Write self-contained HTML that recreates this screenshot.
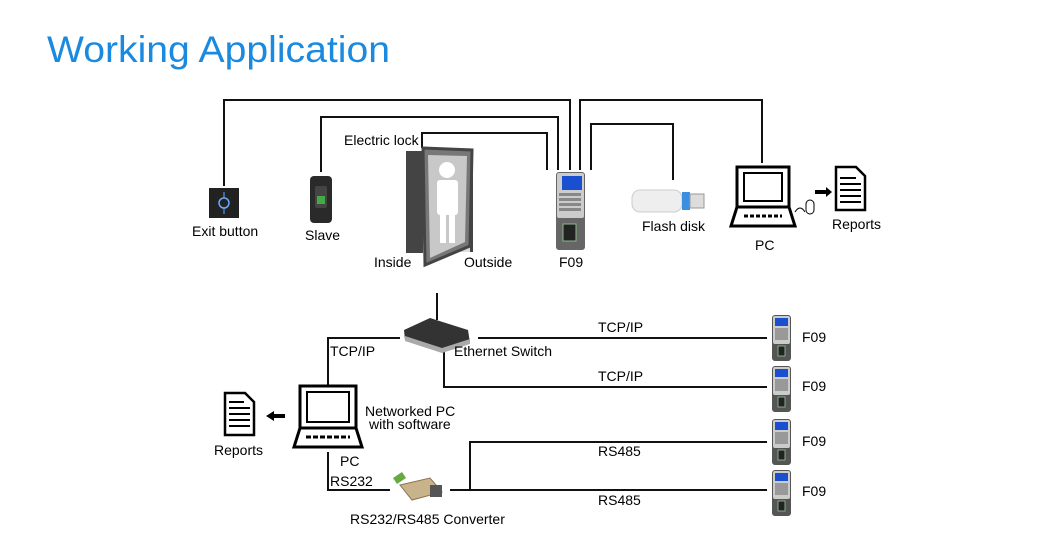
<!DOCTYPE html>
<html><head><meta charset="utf-8"><style>
html,body{margin:0;padding:0;background:#fff;}
svg{display:block;font-family:"Liberation Sans",sans-serif;}
</style></head><body>
<svg width="1059" height="543" viewBox="0 0 1059 543" xmlns="http://www.w3.org/2000/svg">
<defs>
<g id="f09s">
 <rect x="0" y="0" width="19" height="46" rx="3" fill="#555"/>
 <rect x="1" y="1" width="17" height="28" rx="2" fill="#ccc"/>
 <rect x="3" y="3" width="13" height="8" fill="#1a4fd0"/>
 <rect x="3" y="13" width="13" height="12" fill="#999"/>
 <rect x="6" y="31" width="7" height="10" fill="#222" stroke="#8a8" stroke-width="1"/>
</g>
</defs>
<text x="47" y="62" font-size="37" fill="#1a8ae0" textLength="343" lengthAdjust="spacingAndGlyphs">Working Application</text>

<g fill="none" stroke="#111" stroke-width="2">
 <polyline points="224,186 224,100 570,100 570,170"/>
 <polyline points="321,172 321,117 558,117 558,170"/>
 <polyline points="422,148 422,133 547,133 547,170"/>
 <polyline points="580,170 580,100 762,100 762,163"/>
 <polyline points="591,170 591,124 673,124 673,180"/>
 <polyline points="328,385 328,338 400,338"/>
 <line x1="478" y1="338" x2="767" y2="338"/>
 <polyline points="444,350 444,387 767,387"/>
 <polyline points="470,490 470,442 767,442"/>
 <line x1="450" y1="490" x2="767" y2="490"/>
 <polyline points="328,452 328,490 390,490"/>
</g>

<!-- exit button -->
<rect x="209" y="188" width="30" height="30" fill="#222"/>
<circle cx="224" cy="203" r="5" fill="none" stroke="#6af" stroke-width="1.5"/>
<line x1="224" y1="192" x2="224" y2="198" stroke="#6af"/><line x1="224" y1="208" x2="224" y2="214" stroke="#6af"/>
<text x="192" y="236" font-size="14">Exit button</text>
<!-- slave -->
<rect x="310" y="176" width="22" height="47" rx="4" fill="#2a2a2a"/>
<rect x="315" y="186" width="12" height="22" rx="2" fill="#444"/>
<rect x="317" y="196" width="8" height="8" fill="#4a4"/>
<text x="305" y="240" font-size="14">Slave</text>
<!-- door -->
<polygon points="406,151 423,151 423,253 406,253" fill="#444"/>
<polygon points="423,151 470,151 470,252 423,252" fill="#ddd"/>
<polygon points="470,151 473,151 473,252 470,252" fill="#444"/>
<polygon points="423,148 472,150 470,246 425,265" fill="#777" stroke="#444" stroke-width="3"/>
<polygon points="428,155 467,156 465,242 430,258" fill="#c8c8c8"/>
<circle cx="447" cy="170" r="8" fill="#fff"/>
<rect x="437" y="180" width="21" height="35" rx="3" fill="#fff"/>
<rect x="440" y="213" width="6" height="30" fill="#fff"/><rect x="449" y="213" width="6" height="30" fill="#fff"/>
<text x="344" y="145" font-size="14">Electric lock</text>
<text x="374" y="267" font-size="14">Inside</text>
<text x="464" y="267" font-size="14">Outside</text>
<!-- F09 big -->
<rect x="556" y="172" width="29" height="78" rx="3" fill="#666"/>
<rect x="557" y="173" width="27" height="45" rx="2" fill="#ccc"/>
<rect x="562" y="176" width="20" height="14" fill="#1a4fd0"/>
<g fill="#888"><rect x="559" y="193" width="22" height="3"/><rect x="559" y="198" width="22" height="3"/><rect x="559" y="203" width="22" height="3"/><rect x="559" y="208" width="22" height="3"/></g>
<rect x="563" y="224" width="13" height="17" fill="#222" stroke="#8b8"/>
<text x="559" y="267" font-size="14">F09</text>
<!-- flash disk -->
<rect x="632" y="190" width="50" height="22" rx="8" fill="#eee" stroke="#ccc"/>
<rect x="682" y="192" width="8" height="18" fill="#3a8fe0"/>
<rect x="690" y="194" width="14" height="14" fill="#ddd" stroke="#999"/>
<text x="642" y="231" font-size="14">Flash disk</text>
<!-- PC top -->
<g fill="none" stroke="#000" stroke-width="3">
 <rect x="737" y="167" width="52" height="40"/>
 <rect x="744" y="173" width="38" height="28" stroke-width="2"/>
 <polygon points="737,207 789,207 795,226 731,226"/>
</g>
<line x1="744" y1="216" x2="782" y2="216" stroke="#000" stroke-width="3" stroke-dasharray="4,2"/>
<path d="M795,212 q5,-8 10,0" fill="none" stroke="#000"/>
<rect x="806" y="200" width="8" height="14" rx="4" fill="#fff" stroke="#000"/>
<text x="755" y="250" font-size="14">PC</text>
<polygon points="815,190 826,190 826,187 832,192 826,197 826,194 815,194" fill="#000"/>
<path d="M836,167 h20 l9,9 v34 h-29 z" fill="#fff" stroke="#000" stroke-width="2.5"/>
<g stroke="#000" stroke-width="2"><line x1="840" y1="178" x2="856" y2="178"/><line x1="840" y1="184" x2="861" y2="184"/><line x1="840" y1="190" x2="861" y2="190"/><line x1="840" y1="196" x2="861" y2="196"/><line x1="840" y1="202" x2="861" y2="202"/></g>
<text x="832" y="229" font-size="14">Reports</text>

<!-- router -->
<line x1="437" y1="293" x2="437" y2="320" stroke="#111" stroke-width="2"/>
<polygon points="404,330 430,318 468,330 470,343 442,352 405,340" fill="#333"/>
<polygon points="405,336 442,348 470,339 470,344 442,353 405,341" fill="#aaa"/>
<text x="330" y="356" font-size="14">TCP/IP</text>
<text x="454" y="356" font-size="14">Ethernet Switch</text>
<text x="598" y="332" font-size="14">TCP/IP</text>
<text x="598" y="381" font-size="14">TCP/IP</text>
<text x="598" y="456" font-size="14">RS485</text>
<text x="598" y="505" font-size="14">RS485</text>
<!-- networked PC -->
<g fill="none" stroke="#000" stroke-width="3">
 <rect x="300" y="386" width="56" height="42"/>
 <rect x="307" y="392" width="42" height="30" stroke-width="2"/>
 <polygon points="300,428 356,428 362,447 294,447"/>
</g>
<line x1="306" y1="437" x2="350" y2="437" stroke="#000" stroke-width="3" stroke-dasharray="5,2"/>
<text x="365" y="416" font-size="14">Networked PC</text>
<text x="369" y="429" font-size="14">with software</text>
<text x="340" y="466" font-size="14">PC</text>
<text x="330" y="486" font-size="14">RS232</text>
<polygon points="285,418 274,418 274,421 266,416 274,411 274,414 285,414" fill="#000"/>
<path d="M225,393 h20 l9,9 v33 h-29 z" fill="#fff" stroke="#000" stroke-width="2.5"/>
<g stroke="#000" stroke-width="2"><line x1="229" y1="402" x2="244" y2="402"/><line x1="229" y1="408" x2="250" y2="408"/><line x1="229" y1="414" x2="250" y2="414"/><line x1="229" y1="420" x2="250" y2="420"/><line x1="229" y1="426" x2="250" y2="426"/></g>
<text x="214" y="455" font-size="14">Reports</text>
<!-- converter -->
<polygon points="393,478 402,472 406,478 397,484" fill="#6a4"/>
<polygon points="400,485 430,478 442,492 412,500" fill="#c9b38a" stroke="#8a7550"/>
<rect x="430" y="485" width="12" height="12" fill="#555"/>
<text x="350" y="524" font-size="14">RS232/RS485 Converter</text>

<use href="#f09s" x="772" y="315"/>
<use href="#f09s" x="772" y="366"/>
<use href="#f09s" x="772" y="419"/>
<use href="#f09s" x="772" y="470"/>
<text x="802" y="342" font-size="14">F09</text>
<text x="802" y="391" font-size="14">F09</text>
<text x="802" y="446" font-size="14">F09</text>
<text x="802" y="496" font-size="14">F09</text>
</svg>
</body></html>
